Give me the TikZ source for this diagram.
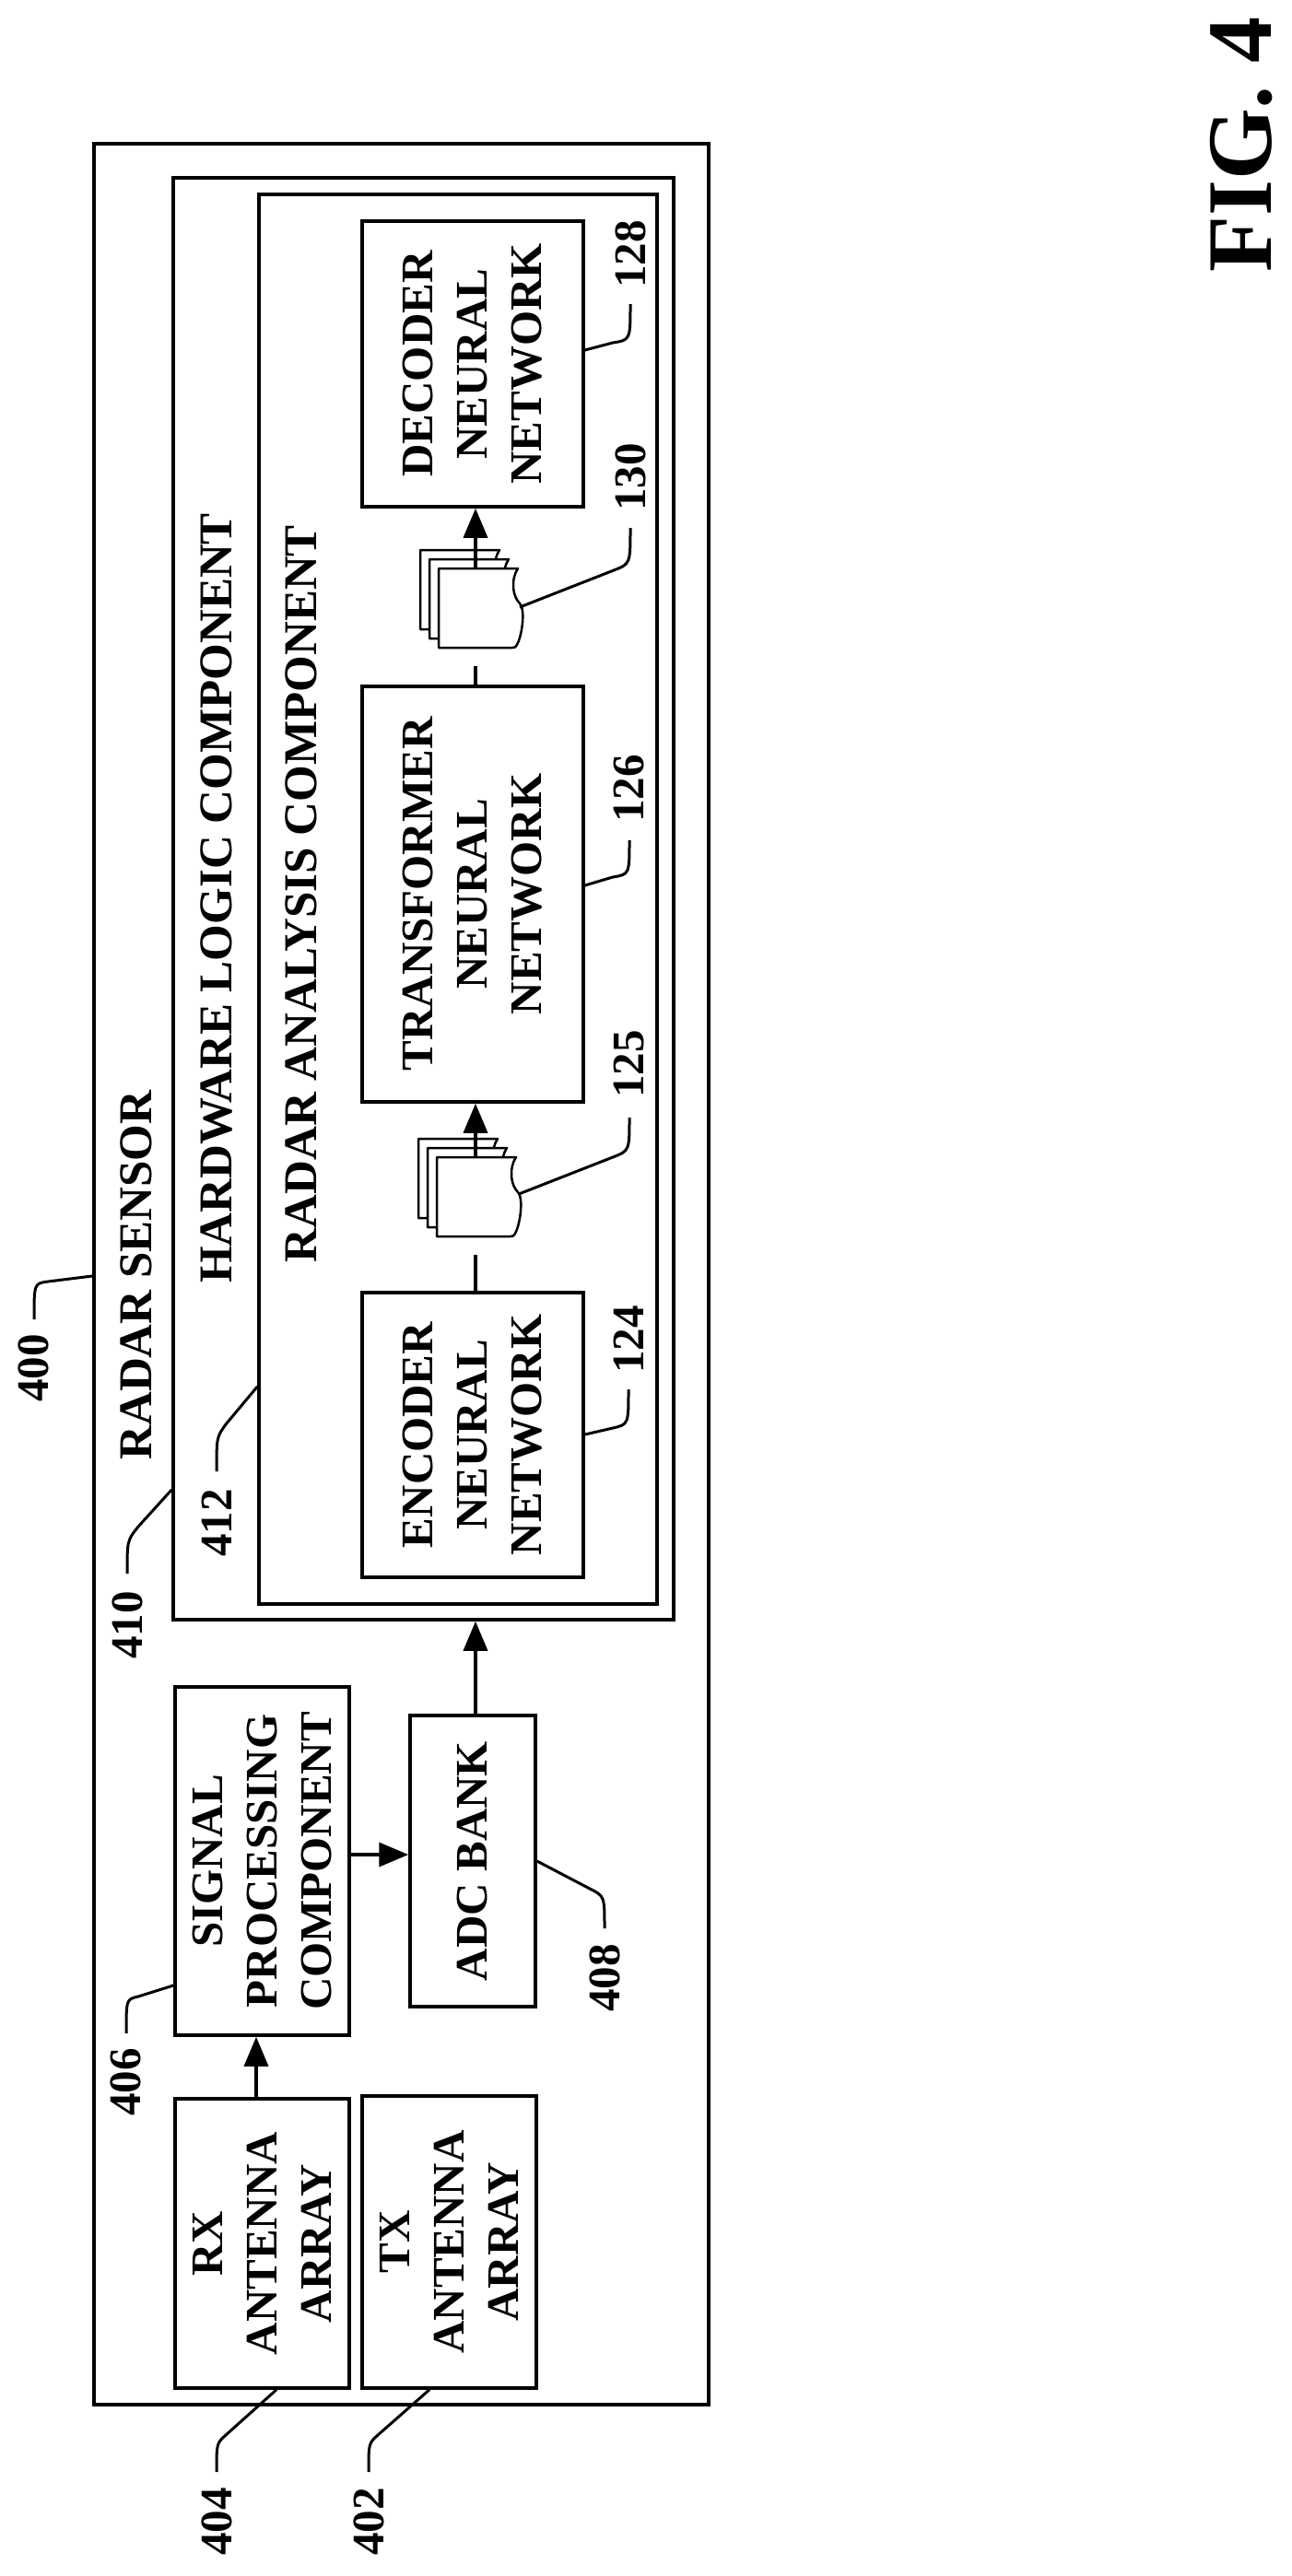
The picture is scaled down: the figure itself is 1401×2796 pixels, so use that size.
\documentclass[tikz,border=0pt]{standalone}
\usepackage{fontspec}
\setmainfont{Liberation Serif}
\usetikzlibrary{arrows.meta}
\newcommand\docsheet[2]{%
  \draw[fill=white,line width=2.5pt,line join=round] (#1,#2) -- ++(86,0) .. controls ++(-8,-12) and ++(-8,8) .. ++(2,-38) .. controls ++(8,-8) and ++(8,-4) .. ++(-8,-48) -- ++(-80,0) -- cycle;}
\newcommand\docstack[2]{%
  \docsheet{#1-20}{#2+20}\docsheet{#1-10}{#2+10}\docsheet{#1}{#2}}
\begin{document}
\begin{tikzpicture}[x=1pt,y=1pt,
  box/.style={draw,line width=3.5pt,inner sep=0pt,fill=none},
  txt/.style={font=\fontsize{49}{59}\selectfont\bfseries,rotate=90,align=center,inner sep=0pt},
  head/.style={txt,font=\fontsize{51}{59}\selectfont\bfseries},
  lead/.style={line width=3pt},
  arr/.style={line width=3.5pt,-{Triangle[length=32pt,width=26pt]}}]
\useasboundingbox (0,0) rectangle (1401,-2796);
% boxes
\node[box,minimum width=667pt,minimum height=2454pt] (outer) at (435.5,-1383) {};
\node[box,minimum width=543pt,minimum height=1565pt] (hw) at (459.5,-975.5) {};
\node[box,minimum width=432pt,minimum height=1530pt] (ra) at (497,-976) {};
\node[box,minimum width=240pt,minimum height=310pt] (dec) at (513,-395) {};
\node[box,minimum width=240pt,minimum height=451pt] (tr) at (513,-970.5) {};
\node[box,minimum width=240pt,minimum height=309pt] (enc) at (513,-1557.5) {};
\node[box,minimum width=189pt,minimum height=378pt] (sp) at (284.5,-2020) {};
\node[box,minimum width=136pt,minimum height=316pt] (adc) at (513,-2020) {};
\node[box,minimum width=189pt,minimum height=314pt] (rx) at (284.5,-2435) {};
\node[box,minimum width=189pt,minimum height=317pt] (tx) at (487.5,-2433.5) {};
% box texts
\node[txt] (tdec) at (dec.center) {DECODER\\NEURAL\\NETWORK};
\node[txt] (ttr) at (tr.center) {TRANSFORMER\\NEURAL\\NETWORK};
\node[txt] (tenc) at (enc.center) {ENCODER\\NEURAL\\NETWORK};
\node[txt] (tsp) at (sp.center) {SIGNAL\\PROCESSING\\COMPONENT};
\node[txt] (tadc) at (adc.center) {ADC BANK};
\node[txt] (trx) at (rx.center) {RX\\ANTENNA\\ARRAY};
\node[txt] (ttx) at (tx.center) {TX\\ANTENNA\\ARRAY};
\node[head] (hrs) at (148,-1384) {RADAR SENSOR};
\node[head] (hhw) at (235,-975) {HARDWARE LOGIC COMPONENT};
\node[head] (hra) at (327,-970) {RADAR ANALYSIS COMPONENT};
% document stacks
\docstack{476}{-617}
\docstack{474}{-1256}
\coordinate (s130t) at (516,-617);
\coordinate (s130b) at (516,-723);
\coordinate (s125t) at (516,-1256);
\coordinate (s125b) at (516,-1362);
\coordinate (s130w) at (564,-659);
\coordinate (s125w) at (563,-1296);
% connectors
\draw[arr] (s130t) -- (s130t |- dec.south);
\draw[line width=3.5pt] (s130b) -- (s130b |- tr.north);
\draw[arr] (s125t) -- (s125t |- tr.south);
\draw[line width=3.5pt] (s125b) -- (s125b |- enc.north);
\draw[arr] (adc.north -| 516,0) -- (hw.south -| 516,0);
\draw[arr] (sp.east |- 0,-2013) -- (adc.west |- 0,-2013);
\draw[arr] (rx.north -| 278,0) -- (sp.south -| 278,0);
% reference numbers
\node[txt] (n400) at (36,-1485) {400};
\node[txt] (n410) at (138,-1764) {410};
\node[txt] (n412) at (235,-1653) {412};
\node[txt] (n124) at (682,-1454) {124};
\node[txt] (n125) at (683,-1155) {125};
\node[txt] (n126) at (683,-856) {126};
\node[txt] (n130) at (684,-518) {130};
\node[txt] (n128) at (684,-276) {128};
\node[txt] (n406) at (136,-2260) {406};
\node[txt] (n408) at (656,-2147) {408};
\node[txt] (n404) at (235,-2737) {404};
\node[txt] (n402) at (400,-2737) {402};
\draw[lead] (outer.west |- 0,-1385) -- (52,-1391) .. controls (37,-1393) .. (37,-1432);
\draw[lead] (hw.west |- 0,-1617) -- (150,-1657) .. controls (138,-1672) .. (138,-1708);
\draw[lead] (ra.west |- 0,-1505) -- (245,-1546) .. controls (235,-1560) .. (235,-1597);
\draw[lead] (enc.east |- 0,-1557) -- (665,-1550) .. controls (682,-1546) .. (682,-1508);
\draw[lead] (s125w) -- (665,-1256) .. controls (683,-1249) .. (683,-1213);
\draw[lead] (tr.east |- 0,-961) -- (665,-952) .. controls (683,-949) .. (683,-912);
\draw[lead] (s130w) -- (666,-619) .. controls (684,-612) .. (684,-573);
\draw[lead] (dec.east |- 0,-380) -- (665,-372) .. controls (684,-369) .. (684,-330);
\draw[lead] (sp.west |- 0,-2155) -- (150,-2167) .. controls (137,-2170) .. (137,-2207);
\draw[lead] (adc.east |- 0,-2020) -- (640,-2050) .. controls (656,-2058) .. (656,-2093);
\draw[lead] (rx.south -| 300,0) -- (245,-2643) .. controls (235,-2652) .. (235,-2683);
\draw[lead] (tx.south -| 466,0) -- (410,-2643) .. controls (400,-2652) .. (400,-2683);
% figure label
\node[txt,font=\fontsize{100}{110}\selectfont\bfseries] (fig) at (1347,-157) {FIG. 4};
\end{tikzpicture}
\end{document}
